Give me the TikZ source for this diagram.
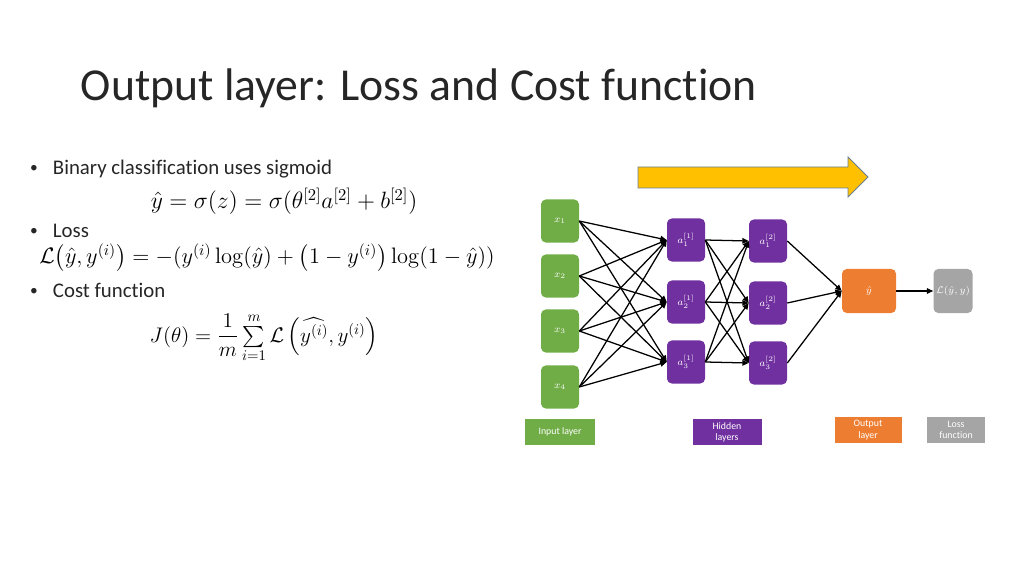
\RequirePackage{fix-cm}
\documentclass[tikz,border=0pt]{standalone}
\usepackage{amsmath,amssymb}
\usepackage[no-math]{fontspec}
\setmainfont[Ligatures=NoCommon]{Carlito}
\usetikzlibrary{arrows.meta}

\definecolor{ingreen}{HTML}{70AD47}
\definecolor{hidpurple}{HTML}{7030A0}
\definecolor{outorange}{HTML}{ED7D31}
\definecolor{lossgrey}{HTML}{A5A5A5}
\definecolor{flowyellow}{HTML}{FFC000}
\definecolor{flowedge}{HTML}{6A7F93}
\definecolor{slideink}{HTML}{262626}

\tikzset{
  unit/.style={rounded corners=0.12cm, text=white, minimum width=0.95cm,
    minimum height=1.075cm, inner sep=0pt, font=\fontsize{7}{8}\selectfont},
  inunit/.style={unit, fill=ingreen},
  hidunit/.style={unit, fill=hidpurple},
  tag/.style={text=white, minimum height=0.625cm, inner sep=0pt, align=center,
    font=\fontsize{7}{8}\selectfont},
  link/.style={-{Triangle[length=1.6mm,width=1.4mm]}, line width=0.9pt},
  bullet/.style={anchor=base west, text=slideink, font=\fontsize{14.8}{17}\selectfont},
  dotmark/.style={anchor=base, text=slideink, font=\fontsize{11}{13}\selectfont},
  formula/.style={anchor=base, text=black}
}

\begin{document}
\begin{tikzpicture}[x=0.025cm, y=-0.025cm]
            \useasboundingbox (0,0) rectangle (1024,576);
            \node[anchor=base west, text=slideink, font=\fontsize{32.5}{38}\selectfont] (title) at (76,101) {Output layer: Loss and Cost function};

            % left column
            \node[dotmark] (dot1) at (34,173) {\textbullet};
            \node[bullet] (txt1) at (48,175) {Binary classification uses sigmoid};
            \node[formula, font=\fontsize{16.8}{18}\selectfont] (eqsig) at (284,209) {$\hat{y} = \sigma(z) = \sigma(\theta^{[2]}a^{[2]} + b^{[2]})$};
            \node[dotmark] (dot2) at (34,236) {\textbullet};
            \node[bullet] (txt2) at (48,238) {Loss};
            \node[formula, font=\fontsize{15.9}{18}\selectfont] (eqloss) at (267,264) {$\mathcal{L}\big(\hat{y}, y^{(i)}\big) = -(y^{(i)}\log(\hat{y}) + \big(1 - y^{(i)}\big)\log(1 - \hat{y}))$};
            \node[dotmark] (dot3) at (34,296) {\textbullet};
            \node[bullet] (txt3) at (48,298) {Cost function};
            \node[formula, font=\fontsize{15}{18}\selectfont] (eqcost) at (264,342) {$J(\theta) = \dfrac{1}{m}\sum\limits_{i=1}^{m} \mathcal{L}\left(\widehat{y^{(i)}}, y^{(i)}\right)$};

            % direction arrow
            \draw[fill=flowyellow, draw=flowedge, line width=0.6pt] (638,167) -- (848,167) -- (848,157) -- (868,177) -- (848,197) -- (848,188) -- (638,188) -- cycle;

            % network
            \node[inunit] (x1) at (560,221) {$x_1$};
            \node[inunit] (x2) at (560,276) {$x_2$};
            \node[inunit] (x3) at (560,331) {$x_3$};
            \node[inunit] (x4) at (560,387) {$x_4$};

            \node[hidunit] (a11) at (686,240) {$a^{[1]}_1$};
            \node[hidunit] (a12) at (686,302) {$a^{[1]}_2$};
            \node[hidunit] (a13) at (686,362) {$a^{[1]}_3$};

            \node[hidunit] (a21) at (768,241) {$a^{[2]}_1$};
            \node[hidunit] (a22) at (768,303) {$a^{[2]}_2$};
            \node[hidunit] (a23) at (768,363) {$a^{[2]}_3$};

            \node[unit, fill=outorange, minimum width=1.35cm, minimum height=1.1cm] (yhat) at (869,291) {$\hat{y}$};
            \node[unit, fill=lossgrey, minimum width=0.975cm, minimum height=1.1cm] (loss) at (953,291) {$\mathcal{L}(\hat{y}, y)$};

            \draw[link] (x1.east) -- (a11.west);
            \draw[link] (x1.east) -- (a12.west);
            \draw[link] (x1.east) -- (a13.west);
            \draw[link] (x2.east) -- (a11.west);
            \draw[link] (x2.east) -- (a12.west);
            \draw[link] (x2.east) -- (a13.west);
            \draw[link] (x3.east) -- (a11.west);
            \draw[link] (x3.east) -- (a12.west);
            \draw[link] (x3.east) -- (a13.west);
            \draw[link] (x4.east) -- (a11.west);
            \draw[link] (x4.east) -- (a12.west);
            \draw[link] (x4.east) -- (a13.west);

            \draw[link] (a11.east) -- (a21.west);
            \draw[link] (a11.east) -- (a22.west);
            \draw[link] (a11.east) -- (a23.west);
            \draw[link] (a12.east) -- (a21.west);
            \draw[link] (a12.east) -- (a22.west);
            \draw[link] (a12.east) -- (a23.west);
            \draw[link] (a13.east) -- (a21.west);
            \draw[link] (a13.east) -- (a22.west);
            \draw[link] (a13.east) -- (a23.west);

            \draw[link] (a21.east) -- (yhat.west);
            \draw[link] (a22.east) -- (yhat.west);
            \draw[link] (a23.east) -- (yhat.west);
            \draw[link] (yhat.east) -- (loss.west);

            % legend
            \node[tag, fill=ingreen, minimum width=1.75cm] (intag) at (560,432) {Input layer};
            \node[tag, fill=hidpurple, minimum width=1.725cm] (hidtag) at (727,432) {Hidden\\layers};
            \node[tag, fill=outorange, minimum width=1.675cm] (outtag) at (868,430) {Output\\layer};
            \node[tag, fill=lossgrey, minimum width=1.45cm] (losstag) at (956,430) {Loss\\function};
        \end{tikzpicture}
\end{document}
